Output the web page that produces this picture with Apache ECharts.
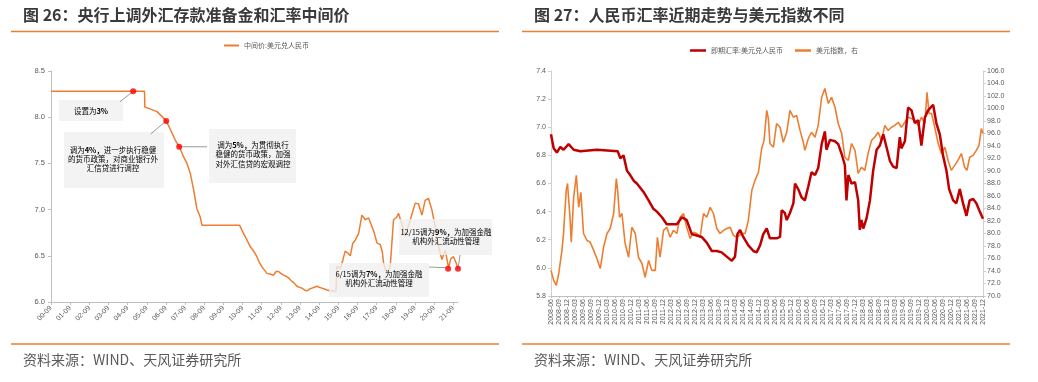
<!DOCTYPE html>
<html><head><meta charset="utf-8">
<script src="https://cdn.jsdelivr.net/npm/echarts@6/dist/echarts.min.js"></script>
<style>html,body{margin:0;padding:0;background:#fff}#c{width:1038px;height:382px}</style>
</head><body><div id="c"></div>
<script>
// ---------- Left chart: USD/CNY central parity (months since 2000-09) ----------
const midMonths = [0,12,24,36,48,58.6,58.8,62,66.4,70.6,72.2,74.7,77.9,80.4,83.1,85.2,87.3,89.4,91.4,93.5,94.6,95.6,100,106,112,118.2,118.6,120.7,122.5,124.8,127,129.0,130.5,132.2,135.3,137.5,139.5,141,142.6,144,145.7,147.2,148.9,150.5,152.0,154.1,155.5,157.2,158.8,160.3,162,163.5,165,166.6,168,169.7,171.3,172.9,175.5,178.6,179.2,181.2,182.8,184.3,186,187.5,189,190.6,192.7,194.8,196.9,199.0,201.0,202.5,204.2,206.3,207.5,208.4,209.4,210.4,212.5,213.5,214.6,216.7,217.7,218.8,219.8,221.9,223.5,225.1,228.2,230.3,232.4,234.4,236.5,238.6,240.7,242.8,244.9,247.0,249.1,250.5,252.2,253.9,255];
const midRate   = [8.28,8.28,8.28,8.28,8.28,8.28,8.11,8.09,8.06,7.99,7.96,7.87,7.75,7.68,7.57,7.50,7.39,7.21,7.01,6.92,6.83,6.85,6.83,6.83,6.83,6.83,6.82,6.74,6.68,6.60,6.55,6.49,6.43,6.38,6.31,6.30,6.29,6.33,6.33,6.31,6.29,6.28,6.26,6.23,6.21,6.17,6.16,6.15,6.13,6.12,6.14,6.15,6.16,6.17,6.16,6.15,6.14,6.13,6.12,6.12,6.39,6.36,6.45,6.55,6.53,6.50,6.63,6.67,6.74,6.94,6.89,6.91,6.82,6.75,6.64,6.62,6.55,6.42,6.36,6.31,6.38,6.62,6.89,6.92,6.96,6.90,6.85,6.71,6.80,6.89,7.07,7.06,6.94,7.10,7.12,7.00,6.82,6.60,6.46,6.56,6.37,6.47,6.49,6.42,6.36];
// RRR events: month offset, parity
const eventMonths = [51.5,72.2,80.3,248.8,255];
const eventRates  = [8.28,7.96,7.68,6.36,6.36];

// ---------- Right chart (months since 2008-06) ----------
const spotMonths = [0,1.0,2.2,3.5,4.7,6.6,8.5,11.0,17.2,25.0,26.0,27.2,28.5,29.7,31.0,32.2,34.7,36.6,38.4,39.7,41.6,43.4,45.3,47.2,49.1,50.9,52.8,54.7,56.5,58.4,60.3,62.2,64.0,65.9,67.8,69.0,69.9,70.9,72.1,74.0,75.9,77.1,78.4,79.6,80.9,82.1,84.6,85.9,86.5,87.7,88.4,89.6,90.9,91.5,92.7,94.0,95.2,96.5,97.7,99.0,100.2,101.5,102.7,103.3,104.6,106.5,107.7,109.0,110.2,110.8,111.5,112.7,114.0,115.2,115.8,116.4,117.1,118.3,119.6,120.8,122.1,123.3,124.6,125.8,127.1,128.3,129.6,130.8,131.4,132.7,133.9,135.2,136.4,137.7,138.9,140.2,141.4,143.3,144.5,145.8,147.0,148.3,149.3,150.8,152.0,153.3,154.5,155.8,157.0,158.3,159.5,160.8,162.0];
const spotRate   = [6.95,6.85,6.82,6.86,6.84,6.88,6.84,6.83,6.84,6.83,6.78,6.80,6.69,6.66,6.62,6.60,6.54,6.48,6.42,6.40,6.36,6.31,6.31,6.31,6.36,6.34,6.24,6.23,6.22,6.18,6.12,6.12,6.11,6.08,6.05,6.08,6.24,6.27,6.22,6.16,6.12,6.11,6.16,6.24,6.28,6.21,6.21,6.22,6.41,6.39,6.34,6.39,6.46,6.60,6.56,6.50,6.48,6.58,6.68,6.66,6.71,6.88,6.97,6.84,6.91,6.90,6.88,6.81,6.73,6.48,6.66,6.60,6.61,6.48,6.27,6.34,6.28,6.35,6.48,6.69,6.84,6.87,6.95,6.86,6.76,6.72,6.71,6.93,6.85,6.90,7.14,7.12,7.03,7.05,6.87,7.07,7.12,7.16,7.03,6.95,6.80,6.69,6.56,6.48,6.46,6.56,6.46,6.37,6.48,6.49,6.46,6.40,6.35];
const dxyMonths = [0,1.0,2.0,2.9,4.1,4.7,5.7,6.2,7.2,7.6,8.5,9.5,10.4,11.2,12.2,13.5,14.7,16.0,17.2,18.5,19.7,21.0,22.2,23.5,24.5,25.0,25.7,26.6,27.8,29.1,30.3,31.6,32.8,34.1,35.3,36.6,37.8,39.1,39.9,40.9,42.2,43.4,44.7,45.9,47.2,48.4,49.7,50.9,52.2,53.4,54.7,55.9,57.2,58.4,59.7,60.9,62.2,63.4,64.7,65.9,67.2,68.4,69.6,71.5,72.8,74.0,75.3,76.5,77.8,79.0,79.9,80.9,81.5,82.1,83.4,84.6,85.9,87.1,88.4,89.6,90.9,92.1,93.4,94.6,95.2,96.5,97.7,99.0,100.2,101.5,102.7,104.0,105.2,106.5,107.7,109.0,110.2,111.5,112.7,114.0,115.2,116.4,117.7,118.9,120.2,121.4,122.7,123.9,125.2,126.4,127.7,128.9,130.2,131.4,132.7,133.9,135.2,136.4,137.7,138.9,140.2,141.0,141.8,142.7,143.9,145.2,146.4,147.7,148.9,150.1,151.4,152.6,153.9,155.1,156.0,157.0,158.3,159.5,160.5,161.4,162.0];
const dxyValues = [74.1,72.5,71.7,73.6,77.3,80.0,86.9,88.0,82.1,78.6,85.8,89.3,84.2,86.6,80.0,78.9,78.6,77.3,76.0,74.4,77.8,80.0,80.8,83.2,88.8,86.9,82.6,83.2,78.4,76.2,81.0,80.0,76.2,75.2,73.0,75.7,74.1,74.1,79.4,76.2,80.5,81.0,79.4,80.5,80.0,82.6,83.2,81.0,79.2,80.2,80.0,79.4,83.2,82.6,84.2,83.2,80.8,80.0,80.5,80.8,81.0,79.7,79.4,80.0,80.0,82.1,86.9,88.5,89.8,93.6,94.9,99.7,98.4,94.4,93.8,97.6,97.0,94.6,96.2,99.7,98.6,98.9,96.5,94.6,93.3,95.2,96.2,95.4,97.3,101.8,103.2,100.8,101.8,100.2,97.6,96.0,92.2,91.7,94.4,93.3,89.6,90.6,90.1,92.8,94.9,95.4,96.2,94.9,97.3,96.5,97.0,97.3,97.8,97.0,97.8,98.6,98.4,98.1,97.3,98.6,97.6,102.6,99.2,99.2,97.0,94.4,92.8,93.8,91.7,90.1,90.9,91.7,92.8,90.6,90.1,92.2,92.5,93.3,94.1,96.8,96.0];

const leftTicks = [0,12,24,36,48,60,72,84,96,108,120,132,144,156,168,180,192,204,216,228,240,252];

const zip = (a, b) => a.map((x, i) => [x, b[i]]);
const CJK = '"Noto Sans CJK SC", "Noto Sans", sans-serif';
const NUM = '"Liberation Sans", "Noto Sans", sans-serif';
const ORANGE = '#ed7d31';
const axisGray = '#bfbfbf';
const labelGray = '#595959';

const chart = echarts.init(document.getElementById('c'), null, {renderer: 'canvas'});

function ann(parts) {
  return parts.map(line => line.map(([t, p]) => '{' + (p ? 'p' : 't') + '|' + t + '}').join('')).join('\n');
}
const annRich = {
  t: {fontSize: 7.5, color: '#404040', fontFamily: CJK, lineHeight: 9.3},
  p: {fontSize: 7.5, color: ORANGE, fontWeight: 'bold', fontFamily: CJK, lineHeight: 9.3}
};

const option = {
  animation: false,
  backgroundColor: '#fff',
  textStyle: {fontFamily: CJK},
  legend: [
    {data: ['中间价:美元兑人民币'], left: 224, top: 42, icon: 'rect', itemWidth: 15, itemHeight: 2,
     textStyle: {fontSize: 7, color: labelGray, fontFamily: CJK}, padding: 0, itemGap: 2},
    {data: ['即期汇率:美元兑人民币', '美元指数，右'], left: 690, top: 47, icon: 'rect', itemWidth: 16, itemHeight: 2.5,
     textStyle: {fontSize: 7, color: labelGray, fontFamily: CJK}, padding: 0, itemGap: 12}
  ],
  grid: [
    {left: 51, top: 71, width: 407, height: 231},
    {left: 551, top: 71, width: 432, height: 225}
  ],
  xAxis: [
    {type: 'value', gridIndex: 0, min: 0, max: 255,
     axisLine: {show: true, lineStyle: {color: axisGray}},
     axisTick: {show: true, length: 3, lineStyle: {color: axisGray}, customValues: leftTicks},
     splitLine: {show: false},
     axisLabel: {customValues: leftTicks, rotate: 45, fontSize: 7, color: labelGray, fontFamily: NUM, margin: 5,
       formatter: v => String(Math.round(v / 12)).padStart(2, '0') + '-09'}},
    {type: 'value', gridIndex: 1, min: 0, max: 162, interval: 3,
     axisLine: {show: true, lineStyle: {color: axisGray}},
     axisTick: {show: true, length: 2, lineStyle: {color: axisGray}},
     splitLine: {show: false},
     axisLabel: {rotate: 90, fontSize: 7, color: labelGray, fontFamily: NUM, margin: 3,
       formatter: v => { const t = 5 + Math.round(v); const y = 2008 + Math.floor(t / 12); const m = t % 12 + 1; return y + '-' + String(m).padStart(2, '0'); }}}
  ],
  yAxis: [
    {type: 'value', gridIndex: 0, min: 6, max: 8.5, interval: 0.5,
     axisLine: {show: true, lineStyle: {color: axisGray}},
     axisTick: {show: true, length: 3, lineStyle: {color: axisGray}},
     splitLine: {show: false},
     axisLabel: {fontSize: 7.5, color: labelGray, fontFamily: NUM, margin: 6, formatter: v => v.toFixed(1)}},
    {type: 'value', gridIndex: 1, min: 5.8, max: 7.4, interval: 0.2, position: 'left',
     axisLine: {show: true, lineStyle: {color: '#d0d0d0'}},
     axisTick: {show: true, length: 3, lineStyle: {color: '#d0d0d0'}},
     splitLine: {show: false},
     axisLabel: {fontSize: 7, color: labelGray, fontFamily: NUM, margin: 5, formatter: v => v.toFixed(1)}},
    {type: 'value', gridIndex: 1, min: 70, max: 106, interval: 2, position: 'right',
     axisLine: {show: true, lineStyle: {color: '#d0d0d0'}},
     axisTick: {show: true, length: 3, lineStyle: {color: '#d0d0d0'}},
     splitLine: {show: false},
     axisLabel: {fontSize: 7, color: labelGray, fontFamily: NUM, margin: 4, formatter: v => v.toFixed(1)}}
  ],
  series: [
    {name: '中间价:美元兑人民币', type: 'line', xAxisIndex: 0, yAxisIndex: 0, data: zip(midMonths, midRate),
     showSymbol: false, color: ORANGE, lineStyle: {width: 1.5, color: ORANGE}, z: 2},
    {name: 'events', type: 'scatter', xAxisIndex: 0, yAxisIndex: 0, data: zip(eventMonths, eventRates),
     symbolSize: 6, itemStyle: {color: '#ff0000'}, z: 30},
    {name: '美元指数，右', type: 'line', xAxisIndex: 1, yAxisIndex: 2, data: zip(dxyMonths, dxyValues),
     showSymbol: false, color: ORANGE, lineStyle: {width: 1.6, color: ORANGE}, z: 2},
    {name: '即期汇率:美元兑人民币', type: 'line', xAxisIndex: 1, yAxisIndex: 1, data: zip(spotMonths, spotRate),
     showSymbol: false, color: '#c00000', lineStyle: {width: 2.5, color: '#c00000'}, z: 3}
  ],
  graphic: []
};
chart.setOption(option);

const dp = eventMonths.map((m, i) => chart.convertToPixel({xAxisIndex: 0, yAxisIndex: 0}, [m, eventRates[i]]));

const g = [];
g.push({type: 'text', left: 23, top: 7, style: {text: '图 26：央行上调外汇存款准备金和汇率中间价', fontSize: 16, fontWeight: 'bold', fill: '#3a3a3a', fontFamily: CJK}});
g.push({type: 'text', left: 534, top: 7, style: {text: '图 27：人民币汇率近期走势与美元指数不同', fontSize: 16, fontWeight: 'bold', fill: '#3a3a3a', fontFamily: CJK}});
[[11, 499, 31.5], [522, 1010, 31.5], [11, 499, 344], [522, 1010, 344]].forEach(([x1, x2, y]) =>
  g.push({type: 'line', shape: {x1, y1: y, x2, y2: y}, style: {stroke: ORANGE, lineWidth: 1.5}}));
g.push({type: 'text', left: 23, top: 353, style: {text: '资料来源：WIND、天风证券研究所', fontSize: 14, fill: '#595959', fontFamily: CJK}});
g.push({type: 'text', left: 534, top: 353, style: {text: '资料来源：WIND、天风证券研究所', fontSize: 14, fill: '#595959', fontFamily: CJK}});

const boxes = [
  {r: [59, 100, 64, 21], c: [91, 111], lines: [[['设置为'], ['3%', 1]]]},
  {r: [64, 132, 100, 56], c: [113, 159], lines: [[['调为'], ['4%，', 1], ['进一步执行稳健']], [['的货币政策，对商业银行外']], [['汇信贷进行调控']]]},
  {r: [209, 129, 87, 54], c: [253, 154.5], lines: [[['调为'], ['5%，', 1], ['为贯彻执行']], [['稳健的货币政策，加强']], [['对外汇信贷的宏观调控']]]},
  {r: [329, 263, 100, 34], c: [379, 278.5], lines: [[['6/15调为'], ['7%，', 1], ['为加强金融']], [['机构外汇流动性管理']]]},
  {r: [399, 219, 93, 36], c: [446, 237], lines: [[['12/15调为'], ['9%，', 1], ['为加强金融']], [['机构外汇流动性管理']]]}
];
boxes.forEach(b => {
  g.push({type: 'rect', shape: {x: b.r[0], y: b.r[1], width: b.r[2], height: b.r[3]}, style: {fill: 'rgba(240,240,240,0.8)'}, z: 10});
  g.push({type: 'text', x: b.c[0], y: b.c[1], z: 11,
    style: {text: ann(b.lines), rich: annRich, align: 'center', verticalAlign: 'middle', fontFamily: CJK}});
});
const leaders = [
  [120, 101.7, dp[0][0], dp[0][1]],
  [150.7, 134, dp[1][0], dp[1][1]],
  [dp[2][0], dp[2][1], 207, dp[2][1]],
  [429, 267, dp[3][0], dp[3][1] - 1],
  [460, 255, dp[4][0], dp[4][1]]
];
leaders.forEach(([x1, y1, x2, y2]) =>
  g.push({type: 'line', shape: {x1, y1, x2, y2}, style: {stroke: '#808080', lineWidth: 0.8}, z: 12}));

chart.setOption({graphic: g});
</script>
</body></html>
